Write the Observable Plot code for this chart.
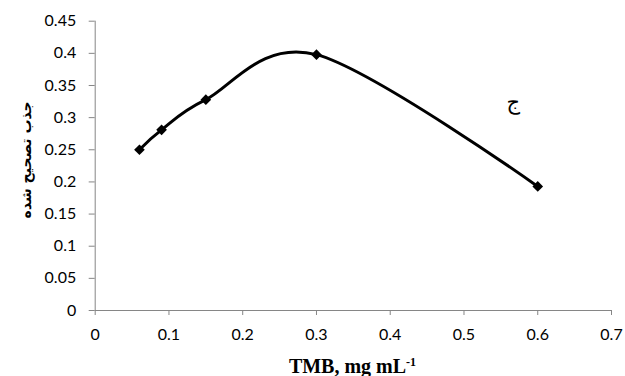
<!DOCTYPE html>
<html>
<head>
<meta charset="utf-8">
<script src="https://cdn.jsdelivr.net/npm/d3@7"></script>
<script src="https://cdn.jsdelivr.net/npm/@observablehq/plot@0.6"></script>
<style>
  html, body { margin: 0; padding: 0; background: #fff; }
  #wrap { position: relative; width: 625px; height: 376px; }
  #xlabel {
    position: absolute; left: 0; top: 356px; width: 705px; text-align: center;
    font: bold 20px "Liberation Serif", "Times New Roman", serif; color: #000;
    line-height: 20px;
  }
  #xlabel sup { font-size: 12px; vertical-align: 7px; line-height: 0; }
</style>
</head>
<body>
<div id="wrap"><div id="xlabel">TMB, mg mL<sup>-1</sup></div></div>
<script>
// TMB concentration (mg/mL) and corrected absorbance
const tmb = [0.06, 0.09, 0.15, 0.3, 0.6];
const absorbance = [0.25, 0.281, 0.328, 0.398, 0.193];

const xTicks = [0, 0.1, 0.2, 0.3, 0.4, 0.5, 0.6, 0.7];
const xTickLabels = ["0", "0.1", "0.2", "0.3", "0.4", "0.5", "0.6", "0.7"];
const yTicks = [0, 0.05, 0.1, 0.15, 0.2, 0.25, 0.3, 0.35, 0.4, 0.45];
const yTickLabels = ["0", "0.05", "0.1", "0.15", "0.2", "0.25", "0.3", "0.35", "0.4", "0.45"];

const yTitle = "جذب تصحیح شده";
const panelLabel = [{x: 0.567, y: 0.3235, text: "ج"}];

const points = tmb.map((x, i) => ({x, y: absorbance[i]}));
const axisGray = "#868686";

const chart = Plot.plot({
  width: 625,
  height: 376,
  marginLeft: 94.7,
  marginRight: 14,
  marginTop: 20.7,
  marginBottom: 66,
  style: {fontFamily: "Lato, 'Open Sans', sans-serif", fontSize: "16px", color: "#000", background: "#fff"},
  x: {domain: [0, 0.7]},
  y: {domain: [0, 0.45]},
  marks: [
    Plot.ruleX([0], {stroke: axisGray, strokeWidth: 1}),
    Plot.ruleY([0], {stroke: axisGray, strokeWidth: 1}),
    Plot.axisX({
      ticks: xTicks, tickSize: 5, tickPadding: 13, label: null,
      tickFormat: d => xTickLabels[xTicks.indexOf(d)],
      stroke: axisGray, fill: "#000", fontSize: 16
    }),
    Plot.axisY({
      ticks: yTicks, tickSize: 6, tickPadding: 13, label: null,
      tickFormat: d => yTickLabels[yTicks.indexOf(d)],
      stroke: axisGray, fill: "#000", fontSize: 16
    }),
    Plot.line(points, {x: "x", y: "y", curve: "cardinal", stroke: "#000", strokeWidth: 3}),
    Plot.dot(points, {x: "x", y: "y", symbol: "diamond2", r: 4.8, fill: "#000", stroke: "none"}),
    Plot.text(panelLabel, {x: "x", y: "y", text: "text", fontSize: 21, fontFamily: "'DejaVu Sans', sans-serif", fill: "#000"}),
    Plot.text([yTitle], {
      frameAnchor: "left", textAnchor: "middle", dx: -69, dy: -6, rotate: -90,
      fontSize: 14, fontWeight: "bold", fontFamily: "'DejaVu Sans', sans-serif", fill: "#000"
    })
  ]
});

document.getElementById("wrap").prepend(chart);
chart.style.position = "absolute";
chart.style.left = "0";
chart.style.top = "0";
</script>
</body>
</html>
